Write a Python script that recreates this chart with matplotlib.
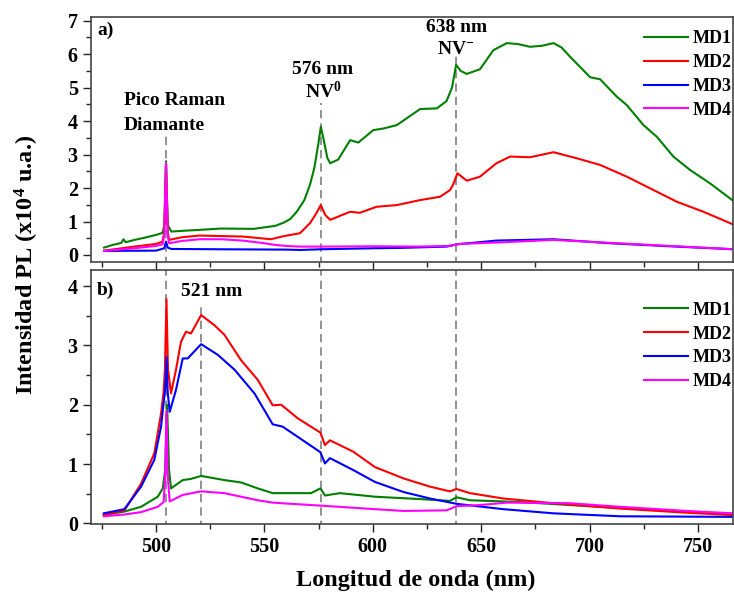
import matplotlib
matplotlib.use("Agg")
import matplotlib.pyplot as plt
from matplotlib.ticker import MultipleLocator

plt.rcParams["font.family"] = "Liberation Serif"
plt.rcParams["font.weight"] = "bold"
plt.rcParams["mathtext.fontset"] = "custom"
plt.rcParams["mathtext.rm"] = "Liberation Serif:bold"
plt.rcParams["mathtext.it"] = "Liberation Serif:bold"
plt.rcParams["mathtext.bf"] = "Liberation Serif:bold"

# ---- panel a) PL spectra (x10^4 u.a.) ----
a_md1_x = [476, 480, 484, 485, 486, 490, 495, 500, 503, 503.8, 504.6, 505.4, 507, 512, 520, 530, 545, 555,
           559, 562, 565, 568.4, 571, 573, 574.8, 576, 577.3, 579, 580.3, 584, 589.5, 593.3, 600.2, 605,
           611, 616, 621.8, 629.5, 634, 636.5, 638.4, 640.5, 643.3, 649.4, 655.6, 661.8, 667, 672.5,
           678, 683.3, 687, 691, 700.2, 704.8, 712.5, 717.1, 724.8, 731, 738.6, 746.3, 755.5, 766.6]
a_md1_y = [0.22, 0.3, 0.36, 0.47, 0.38, 0.45, 0.52, 0.6, 0.66, 0.9, 2.8, 0.9, 0.7, 0.72, 0.75, 0.79, 0.78, 0.87,
           0.97, 1.08, 1.3, 1.64, 2.1, 2.6, 3.3, 3.83, 3.45, 2.9, 2.74, 2.85, 3.43, 3.36, 3.73, 3.78,
           3.88, 4.1, 4.36, 4.38, 4.6, 5.0, 5.68, 5.5, 5.41, 5.55, 6.12, 6.33, 6.3, 6.22,
           6.25, 6.33, 6.2, 5.92, 5.31, 5.25, 4.73, 4.48, 3.88, 3.53, 2.94, 2.54, 2.14, 1.6]

a_md2_x = [476, 490, 500, 503, 503.8, 504.6, 505.4, 506, 512, 520, 540, 553, 558, 562, 566.4, 571,
           573.5, 576, 578, 580.3, 589.5, 594, 601.7, 611, 621.8, 631, 635.6, 637, 639, 643.3, 649.4,
           657, 663.3, 672.5, 683.3, 694, 704.8, 717.1, 727.9, 740.2, 752.5, 766.6]
a_md2_y = [0.13, 0.25, 0.33, 0.4, 0.7, 2.7, 0.7, 0.45, 0.53, 0.58, 0.55, 0.47, 0.55, 0.6, 0.65, 0.95,
           1.2, 1.49, 1.2, 1.05, 1.29, 1.26, 1.44, 1.49, 1.64, 1.74, 1.94, 2.1, 2.44, 2.22, 2.34,
           2.74, 2.94, 2.92, 3.07, 2.89, 2.69, 2.34, 1.99, 1.59, 1.29, 0.9]

a_md3_x = [476, 500, 503.8, 504.6, 505.4, 507, 530, 560, 566.4, 576, 600, 612, 634, 639, 657, 683.3,
           709.4, 740, 766.6]
a_md3_y = [0.12, 0.13, 0.2, 0.4, 0.22, 0.18, 0.17, 0.16, 0.15, 0.17, 0.2, 0.21, 0.25, 0.32, 0.43, 0.47,
           0.35, 0.25, 0.17]

a_md4_x = [476, 490, 500, 503, 503.8, 504.6, 505.4, 506, 512, 520, 530, 540, 550, 555, 560, 566.4,
           576, 600, 620, 635, 640, 660, 683.3, 710, 740, 766.6]
a_md4_y = [0.12, 0.2, 0.27, 0.32, 0.6, 2.75, 0.6, 0.35, 0.42, 0.47, 0.47, 0.43, 0.35, 0.3, 0.27, 0.25,
           0.25, 0.26, 0.25, 0.27, 0.33, 0.38, 0.45, 0.36, 0.26, 0.17]

# ---- panel b) ----
b_md1_x = [475.9, 485.4, 493.1, 500.8, 503.1, 504.2, 505.1, 506, 506.9, 512.3, 516.1, 520.8, 531.5,
           539.2, 546.9, 553.8, 562.3, 571.5, 575.8, 577.9, 584.8, 600.9, 621.7, 635.5, 638.6, 644.8,
           667.8, 690.8, 714, 744.7, 766.2]
b_md1_y = [0.14, 0.2, 0.28, 0.45, 0.59, 0.9, 2.0, 0.9, 0.59, 0.73, 0.75, 0.8, 0.73,
           0.69, 0.59, 0.51, 0.51, 0.51, 0.59, 0.47, 0.51, 0.45, 0.41, 0.38, 0.44, 0.39,
           0.36, 0.31, 0.26, 0.2, 0.16]

b_md2_x = [475.9, 485.4, 493.1, 499.2, 502.3, 503.5, 504.1, 504.8, 505.5, 506.9, 509.2, 511.5, 513.8,
           516.1, 520.8, 526.9, 531.5, 539.2, 546.9, 553.8, 557.7, 565.4, 575.8, 577.9, 580.2, 590.9,
           600.9, 614, 626.3, 635.5, 638.6, 644.8, 660.1, 683.2, 714, 744.7, 766.2]
b_md2_y = [0.14, 0.22, 0.67, 1.18, 1.85, 2.22, 2.6, 3.78, 2.6, 2.19, 2.59, 3.06, 3.23,
           3.2, 3.51, 3.34, 3.18, 2.75, 2.42, 1.99, 2.0, 1.77, 1.53, 1.32, 1.4, 1.21,
           0.95, 0.76, 0.62, 0.54, 0.58, 0.51, 0.42, 0.34, 0.25, 0.18, 0.14]

b_md3_x = [475.9, 485.4, 493.1, 499.2, 502.3, 503.8, 504.3, 504.8, 505.4, 506.3, 509.2, 512.3, 514.6,
           520.8, 528.5, 536.2, 545.4, 553.8, 558.4, 575.8, 577.9, 580.2, 590.9, 600.9, 614, 626.3,
           638.6, 660.1, 683.2, 714, 766.2]
b_md3_y = [0.17, 0.24, 0.62, 1.07, 1.63, 2.13, 2.3, 2.8, 2.2, 1.88, 2.25, 2.78, 2.78,
           3.02, 2.84, 2.59, 2.19, 1.67, 1.63, 1.2, 1.01, 1.1, 0.9, 0.7, 0.53, 0.42,
           0.33, 0.24, 0.17, 0.12, 0.11]

b_md4_x = [475.9, 485.4, 493.1, 500.8, 503.5, 504.2, 504.8, 505.4, 506.3, 512.3, 520.8, 531.5, 546.9,
           553.8, 562.3, 575.8, 600.9, 614, 634, 638.6, 649.4, 661.7, 690.8, 714, 744.7, 766.2]
b_md4_y = [0.12, 0.15, 0.19, 0.28, 0.36, 0.8, 1.9, 0.8, 0.37, 0.48, 0.54, 0.51, 0.39,
           0.35, 0.33, 0.3, 0.24, 0.21, 0.22, 0.29, 0.31, 0.35, 0.34, 0.28, 0.21, 0.17]

labels = ["MD1", "MD2", "MD3", "MD4"]
colors = ["#008000", "#ff0000", "#0000ff", "#ff00ff"]

fig = plt.figure(figsize=(7.34, 5.94), dpi=100)
ax1 = fig.add_axes([91 / 734, 1 - 262 / 594, 642 / 734, 245 / 594])
ax2 = fig.add_axes([91 / 734, 1 - 524 / 594, 642 / 734, 254 / 594])

panel_a = [(a_md1_x, a_md1_y), (a_md2_x, a_md2_y), (a_md3_x, a_md3_y), (a_md4_x, a_md4_y)]
panel_b = [(b_md1_x, b_md1_y), (b_md2_x, b_md2_y), (b_md3_x, b_md3_y), (b_md4_x, b_md4_y)]

for (x, y), lab, c in zip(panel_a, labels, colors):
    ax1.plot(x, y, color=c, lw=1.5, label=lab)
for (x, y), lab, c in zip(panel_b, labels, colors):
    ax2.plot(x, y, color=c, lw=1.5, label=lab)

dash = dict(color="#7f7f7f", lw=1.2, ls=(0, (5, 3)), zorder=0)
ax1.vlines([504.6, 576, 638.5], -0.3, [3.59, 4.54, 5.97], **dash)
ax2.vlines([504.6, 520.9, 576, 638.5], -0.1, [4.3, 3.68, 4.3, 4.3], **dash)

for ax in (ax1, ax2):
    ax.set_xlim(470, 766.1)
    ax.xaxis.set_major_locator(MultipleLocator(50))
    ax.xaxis.set_minor_locator(MultipleLocator(25))
    ax.yaxis.set_minor_locator(MultipleLocator(0.5))
    ax.tick_params(which="both", direction="out", width=1.0, labelsize=14.5, colors="#222222")
    ax.tick_params(which="major", length=6)
    ax.tick_params(which="minor", length=3.5)
    ax.tick_params(axis="both", labelcolor="black")
    for s in ax.spines.values():
        s.set_linewidth(1.2)
        s.set_color("#444444")
    for t in ax.get_xticklabels() + ax.get_yticklabels():
        t.set_fontweight("bold")
    ax.legend(loc="upper left", frameon=False, handlelength=2.4,
              handletextpad=0.25, labelspacing=0.38, borderpad=0, borderaxespad=0,
              bbox_to_anchor=(0.862, 0.946 if ax is ax1 else 0.875),
              prop={"weight": "bold", "size": 13})

ax1.set_ylim(-0.21, 7.11)
ax1.yaxis.set_major_locator(MultipleLocator(1))
ax1.tick_params(axis="x", labelbottom=False)
ax2.set_ylim(-0.01, 4.27)
ax2.yaxis.set_major_locator(MultipleLocator(1))

txt = dict(fontsize=14, fontweight="bold")
ax1.text(472.8, 6.72, "a)", ha="left", va="center", **txt)
ax1.text(485.2, 4.63, "Pico Raman", ha="left", va="center", **txt)
ax1.text(485.2, 3.88, "Diamante", ha="left", va="center", **txt)
ax1.text(577.0, 5.55, "576 nm", ha="center", va="center", **txt)
ax1.text(577.0, 4.88, "NV$^{0}$", ha="center", va="center", **txt)
ax1.text(638.8, 6.80, "638 nm", ha="center", va="center", **txt)
ax1.text(638.0, 6.15, "NV$^{-}$", ha="center", va="center", **txt)
ax2.text(472.8, 3.93, "b)", ha="left", va="center", **txt)
ax2.text(525.7, 3.90, "521 nm", ha="center", va="center", **txt)

fig.text(27 / 734, 1 - 265 / 594, "Intensidad PL (x10$^{4}$ u.a.)", rotation=90,
         ha="center", va="center", fontsize=17.5, fontweight="bold")
fig.text(416 / 734, 1 - 580 / 594, "Longitud de onda (nm)", ha="center", va="center",
         fontsize=17.5, fontweight="bold")

fig.savefig("out.png", dpi=100)
